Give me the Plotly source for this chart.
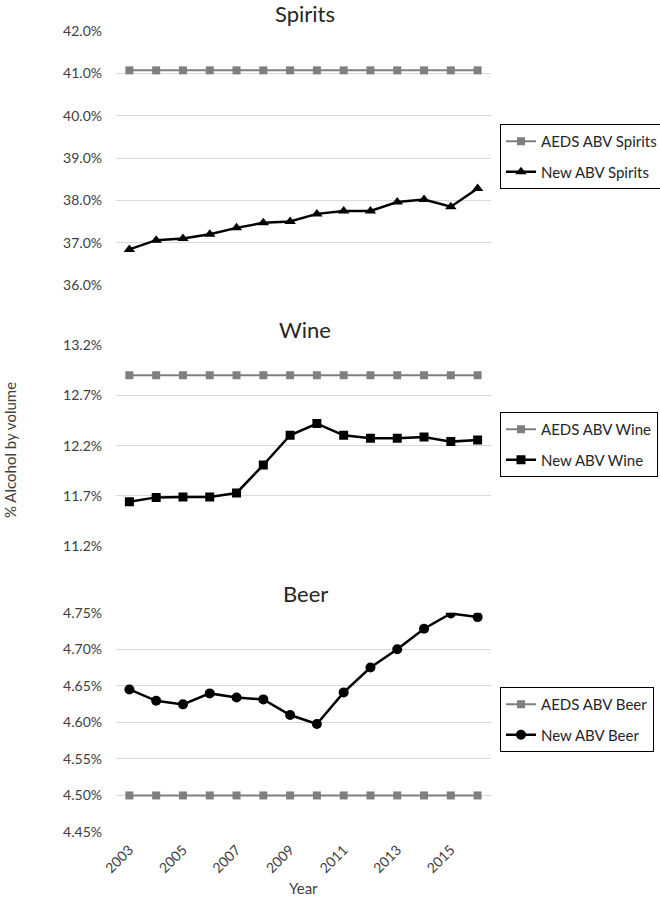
import plotly.graph_objects as go

years = list(range(2003, 2017))
x_tick_labels = ["2003", "2005", "2007", "2009", "2011", "2013", "2015"]

aeds_spirits = [41.07] * 14
new_spirits = [36.84, 37.06, 37.10, 37.20, 37.35, 37.47, 37.50, 37.68, 37.75, 37.75, 37.96, 38.02, 37.85, 38.28]

aeds_wine = [12.90] * 14
new_wine = [11.643, 11.686, 11.69, 11.69, 11.73, 12.008, 12.303, 12.42, 12.303, 12.274, 12.274, 12.286, 12.24, 12.256]

aeds_beer = [4.50] * 14
new_beer = [4.645, 4.6295, 4.6246, 4.6396, 4.634, 4.6314, 4.61, 4.5977, 4.641, 4.675, 4.70, 4.728, 4.749, 4.744]

spirits_ticks = [36.0, 37.0, 38.0, 39.0, 40.0, 41.0, 42.0]
wine_ticks = [11.2, 11.7, 12.2, 12.7, 13.2]
beer_ticks = [4.45, 4.50, 4.55, 4.60, 4.65, 4.70, 4.75]

FONT = "Lato, 'Open Sans', sans-serif"
GREY = "#7f7f7f"
W, H = 660, 900

fig = go.Figure()

panels = [
    ("Spirits", aeds_spirits, new_spirits, "triangle-up", 10, spirits_ticks, "%.1f", (31, 285), "legend", 124),
    ("Wine", aeds_wine, new_wine, "square", 9, wine_ticks, "%.1f", (345, 546.3), "legend2", 412),
    ("Beer", aeds_beer, new_beer, "circle", 10, beer_ticks, "%.2f", (612.7, 832), "legend3", 687),
]

x_dom = [116 / W, 491 / W]
layout_updates = {}
for i, (name, aeds, new, sym, msize, ticks, fmt, (ytop, ybot), leg, legtop) in enumerate(panels):
    xa = "x" if i == 0 else f"x{i+1}"
    ya = "y" if i == 0 else f"y{i+1}"
    fig.add_trace(go.Scatter(
        x=years, y=aeds, mode="lines+markers", name=f"AEDS ABV {name}",
        line=dict(color=GREY, width=2), marker=dict(symbol="square", size=8, color=GREY),
        xaxis=xa, yaxis=ya, legend=leg, legendgroup=f"a{i}"))
    fig.add_trace(go.Scatter(
        x=years, y=new, mode="lines+markers", name=f"New ABV {name}",
        line=dict(color="black", width=2.5), marker=dict(symbol=sym, size=msize, color="black"),
        xaxis=xa, yaxis=ya, legend=leg, legendgroup=f"n{i}"))

    xkey = "xaxis" if i == 0 else f"xaxis{i+1}"
    ykey = "yaxis" if i == 0 else f"yaxis{i+1}"
    ydom = [1 - ybot / H, 1 - ytop / H]
    layout_updates[xkey] = dict(
        domain=x_dom, range=[2002.5, 2016.5], anchor=ya,
        showgrid=False, zeroline=False, showline=False,
        tickmode="array", tickvals=[int(t) for t in x_tick_labels], ticktext=x_tick_labels,
        showticklabels=(i == 2), tickangle=-45,
        tickfont=dict(family=FONT, size=14, color="#404040"), ticks="",
        ticklabelstandoff=6, automargin=False,
    )
    layout_updates[ykey] = dict(
        domain=ydom, range=[ticks[0], ticks[-1]], anchor=xa,
        tickmode="array", tickvals=ticks, ticktext=[(fmt % t) + "%" for t in ticks],
        showgrid=True, gridcolor="#d9d9d9", gridwidth=1, zeroline=False, showline=False,
        tickfont=dict(family=FONT, size=14, color="#404040"), ticks="", ticklen=0,
        ticklabelstandoff=13, automargin=False,
    )
    layout_updates[leg] = dict(
        x=500 / W, y=1 - legtop / H, xanchor="left", yanchor="top",
        bordercolor="black", borderwidth=1, bgcolor="white",
        font=dict(family=FONT, size=15, color="#262626"),
        tracegroupgap=8, traceorder="grouped", itemwidth=30,
    )

fig.update_layout(**layout_updates)

annotations = [
    dict(text="Spirits", x=305 / W, y=1 - 14 / H),
    dict(text="Wine", x=305 / W, y=1 - 329 / H),
    dict(text="Beer", x=305 / W, y=1 - 593 / H),
]
anns = []
for a in annotations:
    anns.append(dict(text=a["text"], x=a["x"], y=a["y"], xref="paper", yref="paper",
                     xanchor="center", yanchor="middle", showarrow=False,
                     font=dict(family=FONT, size=22, color="#262626")))
anns.append(dict(text="Year", x=303.5 / W, y=1 - 888 / H, xref="paper", yref="paper",
                 xanchor="center", yanchor="middle", showarrow=False,
                 font=dict(family=FONT, size=15, color="#404040")))
anns.append(dict(text="% Alcohol by volume", x=10 / W, y=1 - 450 / H, xref="paper", yref="paper",
                 xanchor="center", yanchor="middle", showarrow=False, textangle=-90,
                 font=dict(family=FONT, size=15, color="#404040")))

fig.update_layout(
    width=W, height=H, margin=dict(l=0, r=0, t=0, b=0, autoexpand=False),
    paper_bgcolor="white", plot_bgcolor="white",
    showlegend=True, annotations=anns,
)

fig.write_html("out.html", config={"displayModeBar": False},
               post_script="document.body.style.margin='0px';")
